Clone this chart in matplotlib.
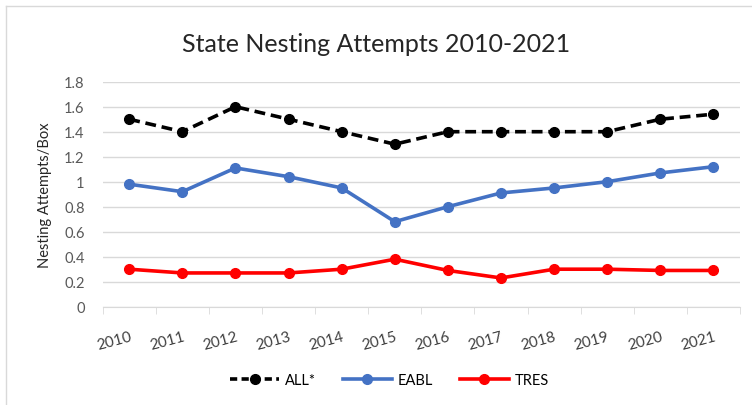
import matplotlib
matplotlib.use('Agg')
import matplotlib.pyplot as plt
import numpy as np
from matplotlib.lines import Line2D

years = ['2010', '2011', '2012', '2013', '2014', '2015',
         '2016', '2017', '2018', '2019', '2020', '2021']
all_vals = [1.50, 1.40, 1.60, 1.50, 1.40, 1.30, 1.40, 1.40, 1.40, 1.40, 1.50, 1.54]
eabl_vals = [0.98, 0.92, 1.11, 1.04, 0.95, 0.68, 0.80, 0.91, 0.95, 1.00, 1.07, 1.12]
tres_vals = [0.30, 0.27, 0.27, 0.27, 0.30, 0.38, 0.29, 0.23, 0.30, 0.30, 0.29, 0.29]

plt.rcParams['font.family'] = ['Lato', 'DejaVu Sans']

fig = plt.figure(figsize=(7.52, 4.06), dpi=100)
ax = fig.add_axes([102.7 / 752, 1 - 307.7 / 406, (740 - 102.7) / 752, (307.7 - 82.7) / 406])

x = np.arange(len(years))
ax.plot(x, all_vals, color='black', lw=2.6, ls=(0, (3, 1.6)), marker='o', ms=7, label='ALL*')
ax.plot(x, eabl_vals, color='#4472C4', lw=2.6, marker='o', ms=7, label='EABL')
ax.plot(x, tres_vals, color='#FF0000', lw=2.6, marker='o', ms=7, label='TRES')

ax.set_xlim(-0.5, len(years) - 0.5)
ax.set_ylim(0, 1.8)
ax.set_yticks(np.arange(0, 1.81, 0.2))
ax.set_yticklabels(['0', '0.2', '0.4', '0.6', '0.8', '1', '1.2', '1.4', '1.6', '1.8'])
ax.grid(axis='y', color='#d9d9d9', lw=1)
ax.set_axisbelow(True)
for s in ['top', 'right', 'left']:
    ax.spines[s].set_visible(False)
ax.spines['bottom'].set_color('#d9d9d9')
ax.tick_params(axis='y', length=0, labelsize=10.5, labelcolor='#595959', pad=13)

# tick marks between categories, labels at category centres
ax.set_xticks(np.arange(-0.5, len(years), 1.0), minor=True)
ax.tick_params(axis='x', which='minor', length=5, color='#d9d9d9')
ax.set_xticks(x)
ax.set_xticklabels(years, rotation=15, ha='right', rotation_mode='anchor')
ax.tick_params(axis='x', which='major', length=0, labelsize=11, labelcolor='#404040', pad=16)

ax.set_ylabel('Nesting Attempts/Box', fontsize=10.5, color='#262626', labelpad=9)
fig.text(0.5, 1 - 44 / 406, 'State Nesting Attempts 2010-2021', ha='center', va='center',
         fontsize=18, color='#262626')

handles = [Line2D([], [], color='black', lw=2.6, ls=(0, (2, 1.2)), marker='o', ms=7),
           Line2D([], [], color='#4472C4', lw=2.6, marker='o', ms=7),
           Line2D([], [], color='#FF0000', lw=2.6, marker='o', ms=7)]
fig.legend(handles, ['ALL*', 'EABL', 'TRES'], loc='center', bbox_to_anchor=(0.518, 1 - 381 / 406),
           ncol=3, frameon=False, fontsize=10.5, handlelength=3.4, columnspacing=1.8, handletextpad=0.4)

# partial frame (left and top) like the cropped original
fig.add_artist(Line2D([6 / 752, 6 / 752], [0, 1 - 7 / 406], transform=fig.transFigure, color='#d9d9d9', lw=1))
fig.add_artist(Line2D([6 / 752, 1], [1 - 7 / 406, 1 - 7 / 406], transform=fig.transFigure, color='#d9d9d9', lw=1))

fig.savefig('out.png', dpi=100)
